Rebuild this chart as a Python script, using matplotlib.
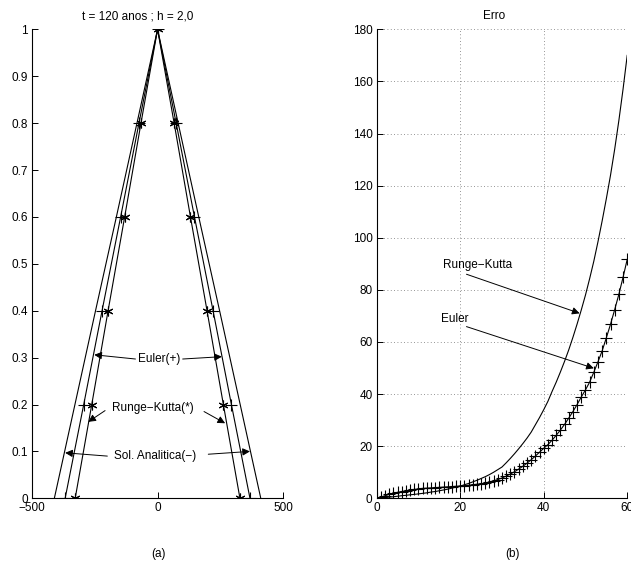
import matplotlib
matplotlib.use('Agg')
import matplotlib.pyplot as plt

plt.rcParams['font.family'] = ['Liberation Sans', 'DejaVu Sans']
plt.rcParams['font.size'] = 8.5

# (a) perfil: alturas e meias-larguras
niveis = [0.0, 0.2, 0.4, 0.6, 0.8, 1.0]
larg_analitica = [411, 329, 247, 164, 82, 0]
larg_euler = [368, 294, 221, 147, 74, 0]
larg_rk = [328, 262, 197, 131, 66, 0]

# (b) erro
t_erro = list(range(0, 61))
erro_euler = [0.0, 0.5, 1.0, 1.5, 1.9, 2.3, 2.6, 2.9, 3.2, 3.4, 3.6, 3.8, 3.9, 4.0, 4.1,
              4.2, 4.3, 4.4, 4.5, 4.6, 4.7, 4.8, 5.0, 5.2, 5.4, 5.6, 5.9, 6.3, 6.7, 7.2,
              7.8, 8.5, 9.3, 10.2, 11.2, 12.3, 13.5, 14.8, 16.2, 17.7, 19.2, 20.6, 22.3,
              24.2, 26.2, 28.4, 30.8, 33.3, 36.0, 38.9, 41.6, 44.6, 48.4, 52.4, 56.6,
              61.6, 66.8, 72.4, 78.3, 84.8, 91.7]
erro_rk = [0.0, 0.15, 0.3, 0.45, 0.6, 0.8, 1.0, 1.15, 1.35, 1.5, 1.7, 1.9, 2.1, 2.4, 2.6,
           2.9, 3.2, 3.5, 3.9, 4.3, 4.7, 5.2, 5.7, 6.3, 6.9, 7.6, 8.3, 9.1, 10.0, 11.0,
           12.0, 13.6, 15.3, 17.1, 19.0, 21.0, 23.1, 25.4, 28.2, 31.0, 34.0, 37.2, 41.0,
           44.6, 48.5, 52.6, 57.0, 61.8, 66.9, 72.3, 78.0, 84.3, 91.0, 98.5, 106.5,
           115.0, 124.0, 134.0, 145.0, 157.0, 170.0]


def perfil(larg):
    xs = [-w for w in larg] + [w for w in reversed(larg[:-1])]
    ys = niveis + list(reversed(niveis[:-1]))
    return xs, ys


fig = plt.figure(figsize=(6.31, 5.66), dpi=100)
ax1 = fig.add_axes([0.0507, 0.1196, 0.398, 0.8286])
ax2 = fig.add_axes([0.597, 0.1196, 0.397, 0.8286])

lw = 0.8
asterisco = (6, 2, 0)
x, y = perfil(larg_analitica)
ax1.plot(x, y, '-', color='k', lw=lw)
x, y = perfil(larg_euler)
ax1.plot(x, y, '-+', color='k', lw=lw, ms=8, mew=0.8)
x, y = perfil(larg_rk)
ax1.plot(x, y, '-', marker=asterisco, color='k', lw=lw, ms=7, mew=0.8)

ax1.set_xlim(-500, 500)
ax1.set_ylim(0, 1)
ax1.set_xticks([-500, 0, 500])
ax1.set_xticklabels(['\u2212500', '0', '500'])
ax1.set_yticks([i / 10 for i in range(11)])
ax1.set_yticklabels(['0', '0.1', '0.2', '0.3', '0.4', '0.5', '0.6', '0.7', '0.8', '0.9', '1'])
ax1.spines['top'].set_visible(False)
ax1.spines['right'].set_visible(False)
ax1.text(0.42, 1.015, 't = 120 anos ; h = 2,0', transform=ax1.transAxes,
         ha='center', va='bottom')

seta = dict(arrowstyle='-|>', color='k', lw=0.7, mutation_scale=11, shrinkA=0, shrinkB=0)
ax1.text(5, 0.297, 'Euler(+)', ha='center', va='center')
ax1.annotate('', xy=(-252, 0.306), xytext=(-88, 0.297), arrowprops=seta)
ax1.annotate('', xy=(256, 0.302), xytext=(100, 0.297), arrowprops=seta)
ax1.text(-20, 0.192, 'Runge\u2212Kutta(*)', ha='center', va='center')
ax1.annotate('', xy=(-276, 0.163), xytext=(-209, 0.187), arrowprops=seta)
ax1.annotate('', xy=(269, 0.16), xytext=(185, 0.185), arrowprops=seta)
ax1.text(-10, 0.09, 'Sol. Analitica(\u2212)', ha='center', va='center')
ax1.annotate('', xy=(-368, 0.097), xytext=(-200, 0.09), arrowprops=seta)
ax1.annotate('', xy=(368, 0.1), xytext=(202, 0.094), arrowprops=seta)

ax2.plot(t_erro, erro_rk, '-', color='k', lw=lw)
ax2.plot(t_erro, erro_euler, '-+', color='k', lw=lw, ms=8, mew=0.8)
ax2.set_xlim(0, 60)
ax2.set_ylim(0, 180)
ax2.set_xticks([0, 20, 40, 60])
ax2.set_yticks(range(0, 181, 20))
ax2.grid(True, linestyle=(0, (1, 3)), color='0.45', lw=0.6)
ax2.spines['top'].set_visible(False)
ax2.spines['right'].set_visible(False)
ax2.text(0.47, 1.015, 'Erro', transform=ax2.transAxes, ha='center', va='bottom')

ax2.text(24.2, 89.5, 'Runge\u2212Kutta', ha='center', va='center')
ax2.annotate('', xy=(48.6, 71), xytext=(21.5, 86), arrowprops=seta)
ax2.text(18.6, 68.7, 'Euler', ha='center', va='center')
ax2.annotate('', xy=(52, 49.9), xytext=(21.5, 65.9), arrowprops=seta)

for ax in (ax1, ax2):
    ax.tick_params(direction='in', length=4, width=0.7, pad=3)
    for s in ('left', 'bottom'):
        ax.spines[s].set_linewidth(0.8)

fig.text(158 / 631, 1 - 554 / 566, '(a)', ha='center', va='center')
fig.text(512 / 631, 1 - 554 / 566, '(b)', ha='center', va='center')

fig.savefig('out.png', dpi=100)
